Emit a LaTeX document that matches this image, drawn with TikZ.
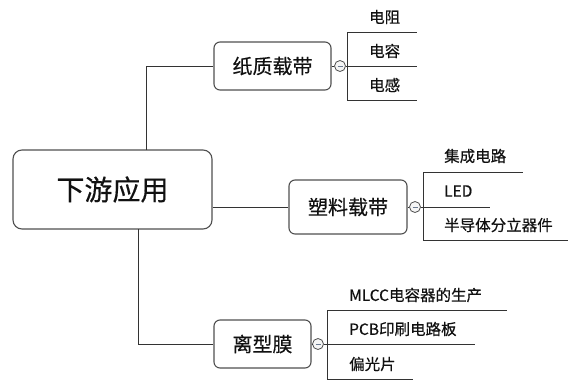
\documentclass[tikz,border=0pt]{standalone}
\usepackage{fontspec}
\usetikzlibrary{calc}
\newfontfamily\cjk[FakeBold=0.4]{Noto Sans CJK SC}
\definecolor{boxline}{HTML}{505050}
\definecolor{wire}{HTML}{333333}
\definecolor{ink}{HTML}{111111}
\definecolor{minus}{HTML}{6A7A90}
\begin{document}
\begin{tikzpicture}[x=1pt,y=-1pt,
  rootbox/.style={draw=boxline,line width=1.1pt,rounded corners=9pt,fill=white,minimum width=199pt,minimum height=79pt,inner sep=0pt,font=\cjk\fontsize{28}{30}\selectfont,text=ink},
  midbox/.style={draw=boxline,line width=1.1pt,rounded corners=6pt,fill=white,minimum height=48pt,inner sep=0pt,font=\cjk\fontsize{20}{22}\selectfont,text=ink},
  leaf/.style={anchor=west,inner sep=0pt,font=\cjk\fontsize{15.5}{17}\selectfont,text=ink},
  wireline/.style={draw=wire,line width=0.9pt},
  toggle/.style={circle,draw=boxline,line width=0.8pt,fill=gray!8,minimum size=11pt,inner sep=0pt},
]
\useasboundingbox (0,0) rectangle (568,381);

% root and branch boxes
\node[rootbox] (root) at (112.5,189.5) {下游应用};
\node[midbox,minimum width=117pt] (p1) at (272.5,66) {纸质载带};
\node[midbox,minimum width=118pt,minimum height=54pt] (p2) at (348,207) {塑料载带};
\node[midbox,minimum width=97pt] (p3) at (262.5,344) {离型膜};

\coordinate (rt) at (146,150);
\coordinate (rb) at (138,229);
\draw[wireline] (p1.west) -| (rt);
\draw[wireline] (p3.west) -| (rb);
\draw[wireline] (root.east |- p2.west) -- (p2.west);

% toggles
\node[toggle] (c1) at (340,66) {};
\node[toggle] (c2) at (415,207) {};
\node[toggle] (c3) at (318,344) {};
\foreach \c in {c1,c2,c3}{
  \draw[draw=minus,line width=0.8pt] ($(\c.center)+(-2.5,0)$) -- ($(\c.center)+(2.5,0)$);
}
\draw[wireline] (p1.east) -- (c1.west);
\draw[wireline] (p2.east) -- (c2.west);
\draw[wireline] (p3.east) -- (c3.west);

% group 1
\coordinate (v1a) at (347,32);
\coordinate (v1b) at (347,66);
\coordinate (v1c) at (347,100);
\coordinate (e1a) at (417,32);
\coordinate (e1b) at (417,66);
\coordinate (e1c) at (417,100);
\draw[wireline] (c1.east) -- (v1b);
\draw[wireline] (v1a) -- (v1c);
\draw[wireline] (v1a) -- (e1a);
\draw[wireline] (v1b) -- (e1b);
\draw[wireline] (v1c) -- (e1c);
\node[leaf] (l11) at (369,17) {电阻};
\node[leaf] (l12) at (369,51) {电容};
\node[leaf] (l13) at (369,85) {电感};

% group 2
\coordinate (v2a) at (423,172);
\coordinate (v2b) at (423,207);
\coordinate (v2c) at (423,240);
\coordinate (e2a) at (523,172);
\coordinate (e2b) at (490,207);
\coordinate (e2c) at (568,240);
\draw[wireline] (c2.east) -- (v2b);
\draw[wireline] (v2a) -- (v2c);
\draw[wireline] (v2a) -- (e2a);
\draw[wireline] (v2b) -- (e2b);
\draw[wireline] (v2c) -- (e2c);
\node[leaf] (l21) at (444,156) {集成电路};
\node[leaf] (l22) at (444,191) {LED};
\node[leaf] (l23) at (444,225) {半导体分立器件};

% group 3
\coordinate (v3a) at (327,310);
\coordinate (v3b) at (327,344);
\coordinate (v3c) at (327,379);
\coordinate (e3a) at (507,310);
\coordinate (e3b) at (475,344);
\coordinate (e3c) at (413,379);
\draw[wireline] (c3.east) -- (v3b);
\draw[wireline] (v3a) -- (v3c);
\draw[wireline] (v3a) -- (e3a);
\draw[wireline] (v3b) -- (e3b);
\draw[wireline] (v3c) -- (e3c);
\node[leaf] (l31) at (349,295) {MLCC电容器的生产};
\node[leaf] (l32) at (349,329) {PCB印刷电路板};
\node[leaf] (l33) at (349,364) {偏光片};
\end{tikzpicture}
\end{document}
